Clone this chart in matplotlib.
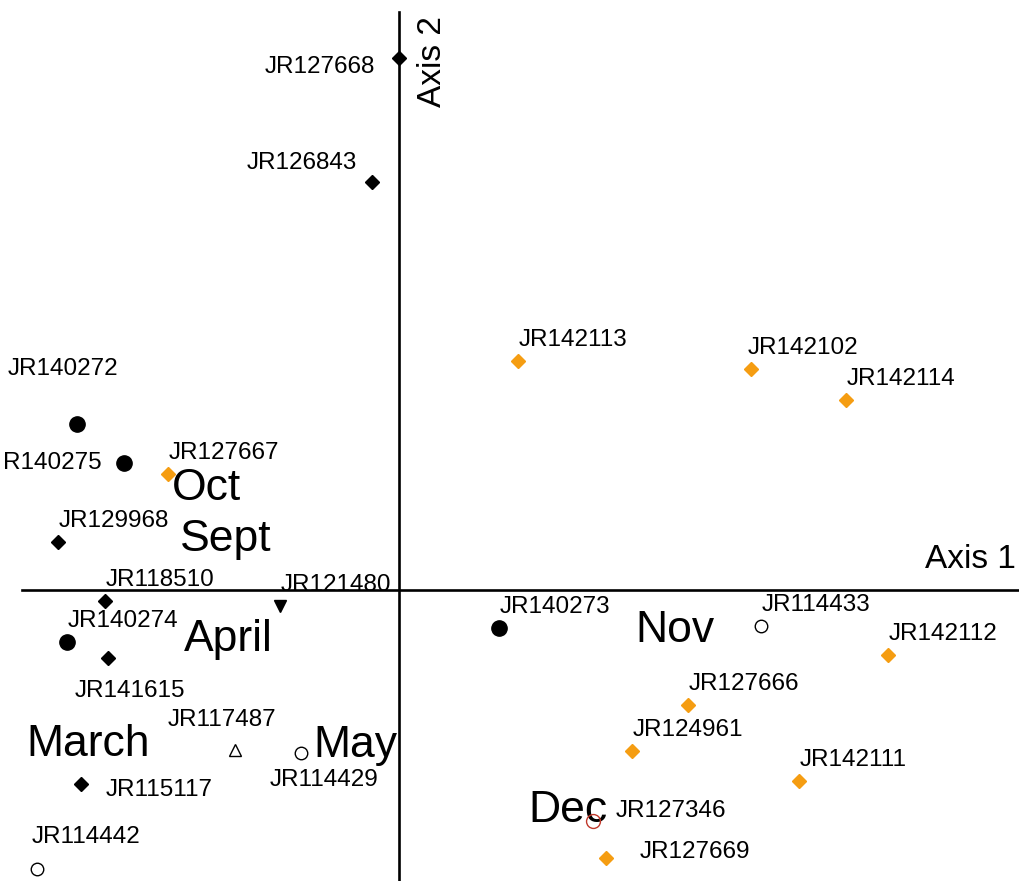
import matplotlib.pyplot as plt

plt.rcParams['font.family'] = ['Liberation Sans', 'DejaVu Sans']

# sample scores on the two ordination axes
names = ["JR127668", "JR126843", "JR142113", "JR142102", "JR142114",
         "JR140272", "R140275", "JR127667", "JR129968", "JR118510",
         "JR121480", "JR140274", "JR141615", "JR117487", "JR114429",
         "JR115117", "JR114442", "JR140273", "JR114433", "JR142112",
         "JR127666", "JR124961", "JR142111", "JR127346", "JR127669"]
axis1 = [0.00, -0.27, 1.19, 3.52, 4.47,
         -3.22, -2.75, -2.31, -3.41, -2.94,
         -1.19, -3.32, -2.91, -1.64, -0.98,
         -3.18, -3.62, 1.00, 3.62, 4.89,
         2.89, 2.33, 4.00, 1.94, 2.07]
axis2 = [5.32, 4.08, 2.29, 2.21, 1.90,
         1.66, 1.27, 1.16, 0.48, -0.11,
         -0.16, -0.52, -0.68, -1.60, -1.63,
         -1.94, -2.79, -0.38, -0.36, -0.65,
         -1.15, -1.61, -1.91, -2.31, -2.68]
group = ["bd", "bd", "od", "od", "od",
         "bc", "bc", "od", "bd", "bd",
         "bt", "bc", "bd", "ot", "oc",
         "bd", "oc", "bc", "oc", "od",
         "od", "od", "od", "rc", "od"]

months = ["Oct", "Sept", "April", "March", "May", "Nov", "Dec"]
month_x = [-1.92, -1.73, -1.71, -3.11, -0.44, 2.76, 1.69]
month_y = [1.02, 0.50, -0.50, -1.55, -1.56, -0.41, -2.20]

# marker style per group
styles = {
    "bd": dict(marker="D", ms=7, mfc="black", mec="black"),
    "od": dict(marker="D", ms=7, mfc="#F59D12", mec="#F59D12"),
    "bc": dict(marker="o", ms=11, mfc="black", mec="black"),
    "oc": dict(marker="o", ms=9, mfc="white", mec="black", mew=1),
    "ot": dict(marker="^", ms=8, mfc="white", mec="black", mew=1),
    "bt": dict(marker="v", ms=9, mfc="black", mec="black"),
    "rc": dict(marker="o", ms=10, mfc="none", mec="#C0392B", mew=1),
}

# label offsets in pixels (dx, dy, ha)
offsets = {
    "JR127668": (-24, -9, "right"), "JR126843": (-15, 19, "right"),
    "JR140272": (-69, 55, "left"), "R140275": (-22, 0, "right"),
    "JR141615": (-33, -33, "left"), "JR117487": (-67, 30, "left"),
    "JR114429": (-31, -27, "left"), "JR115117": (25, -6, "left"),
    "JR114442": (-5, 32, "left"), "JR127346": (23, 10, "left"),
    "JR127669": (34, 6, "left"), "JR142102": (-3, 21, "left"),
}

fig = plt.figure(figsize=(10.19, 8.81), dpi=100)
ax = fig.add_axes([0, 0, 1, 1])
ax.set_xlim(-3.99, 6.20)
ax.set_ylim(-2.91, 5.90)
ax.axis("off")

ax.plot([0, 0], [-2.91, 5.78], color="black", lw=1.9, zorder=1)
ax.plot([-3.77, 6.20], [0, 0], color="black", lw=1.9, zorder=1)

for n, x, y, g in zip(names, axis1, axis2, group):
    ax.plot(x, y, linestyle="none", zorder=3, **styles[g])
    dx, dy, ha = offsets.get(n, (1, 21, "left"))
    ax.annotate(n, (x, y), xytext=(dx, dy), textcoords="offset pixels",
                ha=ha, va="center", fontsize=17.5)

for m, x, y in zip(months, month_x, month_y):
    ax.text(x, y, m, ha="center", va="center", fontsize=32, zorder=2)

ax.text(6.17, 0.30, "Axis 1", ha="right", va="center", fontsize=24)
ax.text(0.34, 5.28, "Axis 2", ha="center", va="center", fontsize=24,
        rotation=90)

fig.savefig("out.png", dpi=100)
